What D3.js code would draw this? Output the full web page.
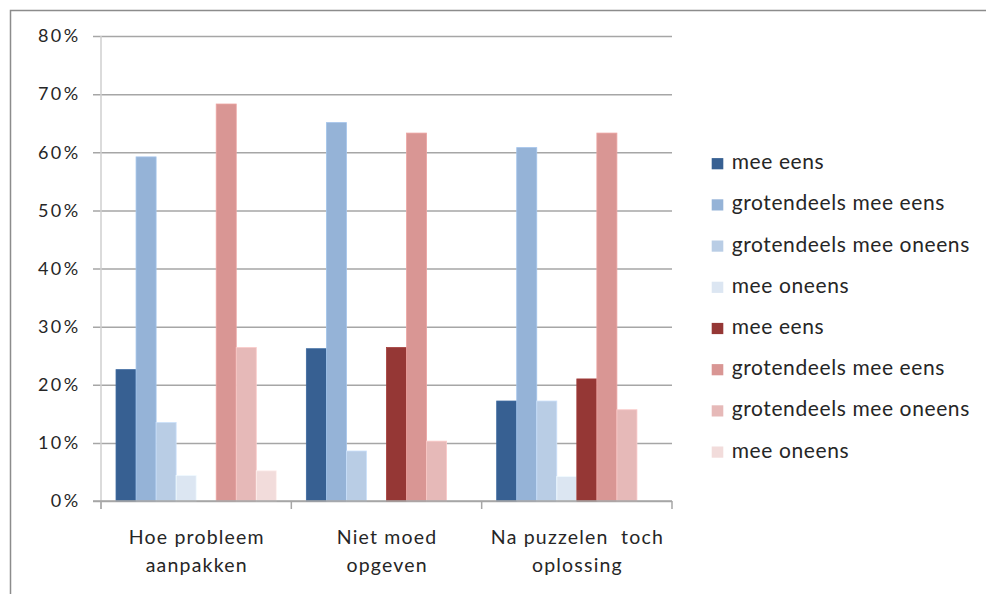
<!DOCTYPE html>
<html>
<head>
<meta charset="utf-8">
<script src="https://cdn.jsdelivr.net/npm/d3@7"></script>
<style>
  html, body { margin: 0; padding: 0; background: #fff; }
  svg { display: block; }
  text { font-family: Lato, "Open Sans", sans-serif; fill: #262626; }
</style>
</head>
<body>
<svg id="chart" width="986" height="594"></svg>
<script>
// Survey answers per statement (share of respondents)
const categories = [
  ["Hoe probleem", "aanpakken"],
  ["Niet moed", "opgeven"],
  ["Na puzzelen  toch", "oplossing"]
];
const seriesNames = [
  "mee eens", "grotendeels mee eens", "grotendeels mee oneens", "mee oneens",
  "mee eens", "grotendeels mee eens", "grotendeels mee oneens", "mee oneens"
];
const seriesColors = [
  "#376092", "#95b3d7", "#b9cde5", "#dce6f2",
  "#953735", "#d99694", "#e6b9b8", "#f2dcdb"
];
// values[s][c] : series s, category c
const values = [
  [0.226, 0.262, 0.172],
  [0.592, 0.651, 0.608],
  [0.135, 0.086, 0.172],
  [0.044, 0.000, 0.042],
  [0.000, 0.264, 0.210],
  [0.683, 0.633, 0.633],
  [0.264, 0.103, 0.157],
  [0.052, 0.000, 0.000]
];
const yTicks = [0, 0.1, 0.2, 0.3, 0.4, 0.5, 0.6, 0.7, 0.8];

const svg = d3.select("#chart");

// outer chart frame (only top and left edges fall inside the view)
svg.append("rect")
  .attr("x", 10.5).attr("y", 10.5)
  .attr("width", 1000).attr("height", 700)
  .attr("fill", "none").attr("stroke", "#8c8c8c").attr("stroke-width", 1.5);

const plot = { left: 101, right: 672, top: 36, bottom: 501 };

const x0 = d3.scaleBand()
  .domain(d3.range(categories.length))
  .range([plot.left, plot.right])
  .paddingInner(0).paddingOuter(0);

const x1 = d3.scaleBand()
  .domain(d3.range(seriesNames.length))
  .range([0, x0.bandwidth()])
  .paddingInner(0)
  .paddingOuter(0.75);

const y = d3.scaleLinear().domain([0, 0.8]).range([plot.bottom, plot.top]);

// horizontal gridlines + y ticks
const yAxis = d3.axisLeft(y)
  .tickValues(yTicks)
  .tickFormat(d3.format(".0%"))
  .tickSize(-(plot.right - plot.left))
  .tickPadding(20.5);
const gy = svg.append("g")
  .attr("transform", `translate(${plot.left},0)`)
  .call(yAxis);
gy.select(".domain").remove();
gy.selectAll(".tick line")
  .attr("x1", -8)
  .attr("stroke", "#a6a6a6").attr("stroke-width", 1.5);
gy.selectAll(".tick text")
  .attr("font-size", 18).attr("fill", "#262626")
  .style("letter-spacing", "2.4px")
  .style("font-family", "Lato, 'Open Sans', sans-serif");

// vertical axis line
svg.append("line")
  .attr("x1", plot.left).attr("x2", plot.left)
  .attr("y1", plot.top).attr("y2", plot.bottom + 8)
  .attr("stroke", "#cfcfcf").attr("stroke-width", 1.5);

// bars
const groups = svg.append("g").selectAll("g")
  .data(categories)
  .join("g")
  .attr("transform", (d, i) => `translate(${x0(i)},0)`);

groups.selectAll("rect")
  .data((d, ci) => values.map((row, si) => ({ si, v: row[ci] })))
  .join("rect")
  .filter(d => d.v > 0)
  .attr("x", d => x1(d.si))
  .attr("width", x1.bandwidth())
  .attr("y", d => y(d.v))
  .attr("height", d => y(0) - y(d.v))
  .attr("fill", d => seriesColors[d.si])
  .attr("stroke", d => d3.color(seriesColors[d.si]).brighter(0.25))
  .attr("stroke-width", 0.8);

// category axis
svg.append("line")
  .attr("x1", plot.left - 8).attr("x2", plot.right)
  .attr("y1", plot.bottom).attr("y2", plot.bottom)
  .attr("stroke", "#a6a6a6").attr("stroke-width", 1.5);

const bounds = d3.range(categories.length + 1).map(i =>
  i < categories.length ? x0(i) : x0(categories.length - 1) + x0.bandwidth());
svg.append("g").selectAll("line")
  .data(bounds)
  .join("line")
  .attr("x1", d => d).attr("x2", d => d)
  .attr("y1", plot.bottom).attr("y2", plot.bottom + 8)
  .attr("stroke", "#a6a6a6").attr("stroke-width", 1.5);

svg.append("g").selectAll("text")
  .data(categories)
  .join("text")
  .attr("x", (d, i) => x0(i) + x0.bandwidth() / 2 + 0.6)
  .attr("y", 543.5)
  .attr("text-anchor", "middle")
  .attr("font-size", 19.5)
  .style("letter-spacing", "1.2px")
  .selectAll("tspan")
  .data(d => d)
  .join("tspan")
  .attr("x", function () { return this.parentNode.getAttribute("x"); })
  .attr("dy", (d, i) => i === 0 ? 0 : 28.4)
  .attr("xml:space", "preserve")
  .style("white-space", "pre")
  .text(d => d);

// legend
const legend = svg.append("g").selectAll("g")
  .data(seriesNames)
  .join("g")
  .attr("transform", (d, i) => `translate(711.7,${163.7 + i * 41.2})`);
legend.append("rect")
  .attr("x", 0).attr("y", -5.6)
  .attr("width", 11.6).attr("height", 11.2)
  .attr("fill", (d, i) => seriesColors[i]);
legend.append("text")
  .attr("x", 20).attr("y", 5.4)
  .attr("font-size", 21)
  .style("letter-spacing", "0.6px")
  .text(d => d);
</script>
</body>
</html>
